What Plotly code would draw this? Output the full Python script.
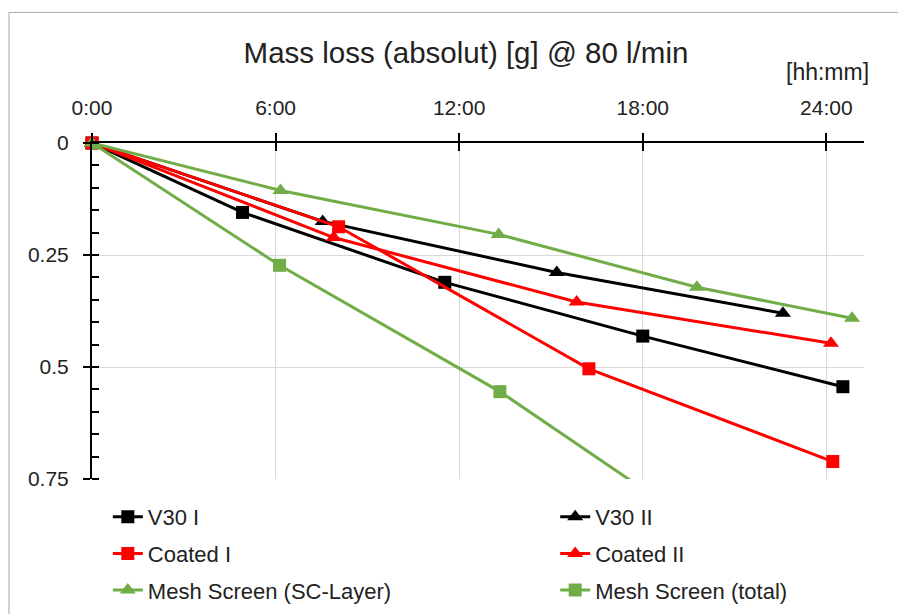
import plotly.graph_objects as go

# ---- data (hours, grams) ----
tick_hours = [0, 6, 12, 18, 24]
tick_text = ["0:00", "6:00", "12:00", "18:00", "24:00"]
y_ticks = [0, 0.25, 0.5, 0.75]
y_tick_text = ["0", "0.25", "0.5", "0.75"]

v30_1_t = [0, 4.92, 11.53, 18.0, 24.54]
v30_1_m = [0, 0.155, 0.311, 0.431, 0.544]

v30_2_t = [0, 7.54, 15.19, 22.58]
v30_2_m = [0, 0.175, 0.289, 0.380]

coated_1_t = [0, 8.06, 16.24, 24.21]
coated_1_m = [0, 0.187, 0.504, 0.711]

coated_2_t = [0, 7.9, 15.84, 24.15]
coated_2_m = [0, 0.211, 0.355, 0.447]

mesh_sc_t = [0, 6.16, 13.29, 19.77, 24.84]
mesh_sc_m = [0, 0.106, 0.204, 0.322, 0.391]

mesh_tot_t = [0, 6.13, 13.33, 19.9]
mesh_tot_m = [0, 0.273, 0.555, 0.86]

FONT = "Liberation Sans, Arial, sans-serif"
BLACK = "#000000"
RED = "#FF0000"
GREEN = "#70AD47"
TXT = "#222222"

series = [
    ("V30 I", v30_1_t, v30_1_m, BLACK, "square", False, "legend"),
    ("V30 II", v30_2_t, v30_2_m, BLACK, "triangle-up", False, "legend2"),
    ("Coated I", coated_1_t, coated_1_m, RED, "square", False, "legend"),
    ("Coated II", coated_2_t, coated_2_m, RED, "triangle-up", False, "legend2"),
    ("Mesh Screen (SC-Layer)", mesh_sc_t, mesh_sc_m, GREEN, "triangle-up", False, "legend"),
    ("Mesh Screen (total)", mesh_tot_t, mesh_tot_m, GREEN, "square", True, "legend2"),
]

fig = go.Figure()
for name, t, m, col, sym, clip, lg in series:
    fig.add_trace(go.Scatter(
        x=t, y=m, name=name, mode="lines+markers",
        line=dict(color=col, width=3),
        marker=dict(symbol=sym, size=13 if sym == "square" else 14, color=col),
        cliponaxis=clip, legend=lg, legendgroup=name,
    ))

# invisible helper traces for crossing ticks
fig.add_trace(go.Scatter(x=[None], y=[None], xaxis="x2", yaxis="y", showlegend=False, hoverinfo="skip"))
fig.add_trace(go.Scatter(x=[None], y=[None], xaxis="x", yaxis="y2", showlegend=False, hoverinfo="skip"))

X_RANGE = [0, 25.23]
Y_RANGE = [0.75, 0]

legend_common = dict(
    orientation="v", yref="paper", y=-0.0475, yanchor="top", xanchor="left",
    font=dict(family=FONT, size=22, color=TXT), bgcolor="rgba(0,0,0,0)",
    tracegroupgap=5, traceorder="grouped",
)

fig.update_layout(
    width=906, height=614,
    margin=dict(l=84, r=50, t=135, b=142),
    paper_bgcolor="white", plot_bgcolor="white",
    font=dict(family=FONT, size=21, color=TXT),
    title=dict(text="Mass loss (absolut) [g] @ 80 l/min", x=0.5055, xanchor="center",
               y=0.928, yanchor="middle", font=dict(family=FONT, size=29.5, color=TXT)),
    xaxis=dict(
        side="top", range=X_RANGE, tickvals=tick_hours, ticktext=tick_text,
        showline=True, linecolor=BLACK, linewidth=2,
        ticks="outside", ticklen=8, tickwidth=1.5, tickcolor=BLACK,
        ticklabelstandoff=10,
        showgrid=True, gridcolor="#D9D9D9", gridwidth=1, zeroline=False,
        tickfont=dict(size=21, color=TXT),
    ),
    xaxis2=dict(
        side="top", overlaying="x", anchor="y", range=X_RANGE, tickvals=tick_hours,
        showticklabels=False, showline=False, showgrid=False, zeroline=False,
        ticks="inside", ticklen=8, tickwidth=1.5, tickcolor=BLACK,
    ),
    yaxis=dict(
        range=Y_RANGE, tickvals=y_ticks, ticktext=y_tick_text,
        showline=True, linecolor=BLACK, linewidth=2,
        ticks="outside", ticklen=7, tickwidth=1.5, tickcolor=BLACK,
        ticklabelstandoff=10,
        showgrid=True, gridcolor="#D9D9D9", gridwidth=1, zeroline=False,
        minor=dict(dtick=0.05, ticks="inside", ticklen=7, tickwidth=1.5, tickcolor=BLACK, showgrid=False),
        tickfont=dict(size=21, color=TXT),
    ),
    yaxis2=dict(
        overlaying="y", anchor="x", side="left", range=Y_RANGE, tickvals=y_ticks,
        showticklabels=False, showline=False, showgrid=False, zeroline=False,
        ticks="inside", ticklen=7, tickwidth=1.5, tickcolor=BLACK,
    ),
    legend=dict(x=0.0205, **legend_common),
    legend2=dict(x=0.600, **legend_common),
    annotations=[dict(
        text="[hh:mm]", xref="paper", yref="paper", x=1.009, y=1.211,
        xanchor="right", yanchor="middle", showarrow=False,
        font=dict(family=FONT, size=23, color=TXT),
    )],
    shapes=[dict(
        type="rect", xref="paper", yref="paper",
        x0=-0.1075, x1=1.08, y0=-0.42, y1=1.3887,
        line=dict(color="#A6A6A6", width=1), fillcolor="rgba(0,0,0,0)", layer="below",
    )],
)

fig.write_html("out.html")
